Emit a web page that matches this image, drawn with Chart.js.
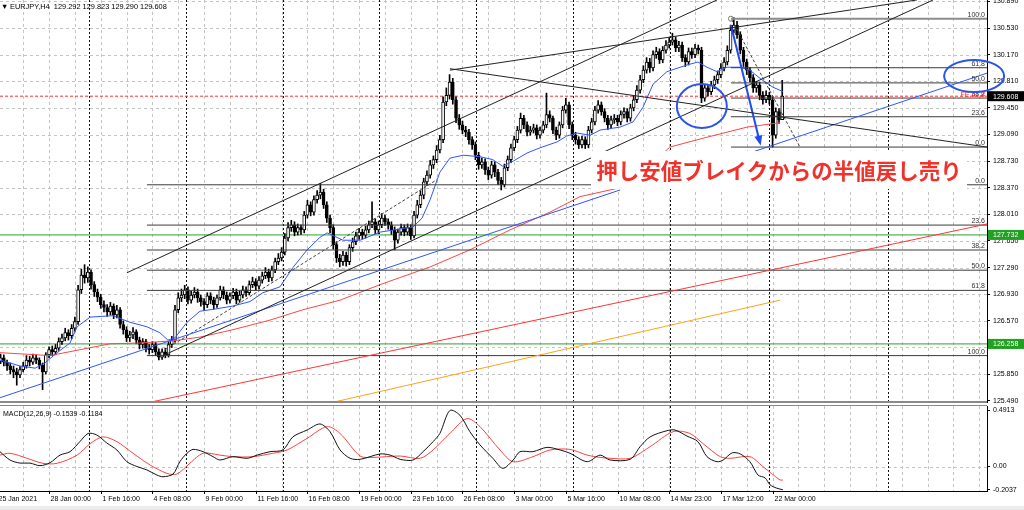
<!DOCTYPE html>
<html>
<head>
<meta charset="utf-8">
<script src="https://cdn.jsdelivr.net/npm/chart.js@4.4.1/dist/chart.umd.min.js"></script>
<style>
  html, body { margin: 0; padding: 0; background: #fff; width: 1024px; height: 510px; overflow: hidden; }
  #main { position: absolute; left: 0; top: 0; }
  #macd { position: absolute; left: 0; top: 405px; }
  #strip { position: absolute; left: 0; top: 506px; width: 1024px; height: 4px; background: #ececec; }
</style>
</head>
<body>
<canvas id="main" width="1024" height="403"></canvas>
<canvas id="macd" width="1024" height="100"></canvas>
<div id="strip"></div>
<script>
// ---- EURJPY H4 candles, bar index 3 .. 245 (index 0 = 25 Jan 00:00) ----
const firstBar = 3;
const firstOpen = 126.02;
const closes = [
  126.07,126.01,125.96,125.91,125.88,125.84,125.91,125.96,126.04,126.01,
  126.07,126.04,125.97,125.88,126.11,126.18,126.15,126.20,126.29,126.34,
  126.41,126.37,126.47,126.56,126.99,127.19,127.15,127.23,127.06,126.96,
  126.89,126.79,126.75,126.69,126.77,126.65,126.72,126.52,126.45,126.34,
  126.38,126.42,126.31,126.25,126.29,126.20,126.18,126.25,126.15,126.08,
  126.15,126.11,126.25,126.31,126.72,126.88,126.92,126.99,126.85,126.92,
  126.96,126.88,126.83,126.79,126.91,126.85,126.79,126.88,126.99,126.92,
  126.85,126.91,126.96,126.85,126.92,126.99,126.95,127.06,127.10,127.04,
  127.12,127.18,127.23,127.15,127.26,127.37,127.42,127.50,127.69,127.83,
  127.87,127.77,127.83,127.80,128.00,128.14,128.04,128.21,128.27,128.31,
  128.14,127.96,127.83,127.60,127.42,127.37,127.46,127.37,127.56,127.64,
  127.72,127.77,127.73,127.80,127.87,127.91,127.80,127.87,127.96,127.91,
  127.87,127.80,127.66,127.77,127.83,127.77,127.83,127.72,128.00,128.14,
  128.27,128.45,128.54,128.68,128.75,128.88,129.02,129.53,129.62,129.80,
  129.56,129.31,129.22,129.15,129.12,129.02,128.95,128.81,128.68,128.72,
  128.61,128.54,128.68,128.58,128.47,128.41,128.64,128.75,128.91,129.02,
  129.15,129.31,129.22,129.12,129.15,129.18,129.08,129.15,129.22,129.36,
  129.31,129.15,129.08,129.22,129.42,129.49,129.22,129.08,129.02,128.95,
  129.02,128.95,129.15,129.26,129.42,129.49,129.40,129.31,129.22,129.29,
  129.31,129.26,129.36,129.40,129.31,129.45,129.56,129.69,129.83,129.96,
  130.07,129.99,130.17,130.21,130.10,130.23,130.30,130.34,130.37,130.26,
  130.30,130.13,130.07,130.21,130.17,130.26,130.23,129.58,129.72,129.67,
  129.76,129.83,129.90,129.99,130.07,130.23,130.50,130.57,130.44,130.23,
  130.07,129.96,129.86,129.72,129.76,129.62,129.56,129.62,129.56,129.08,
  129.40,129.292,129.608
];
const highs = [
  126.12,126.11,126.04,126.00,125.96,125.93,125.95,126.01,126.10,126.09,
  126.12,126.11,126.07,126.00,126.14,126.22,126.23,126.25,126.34,126.39,
  126.47,126.45,126.52,126.62,127.05,127.27,127.33,127.30,127.26,127.10,
  127.00,126.93,126.84,126.79,126.82,126.80,126.78,126.75,126.57,126.49,
  126.43,126.48,126.45,126.35,126.33,126.32,126.25,126.29,126.28,126.19,
  126.19,126.20,126.29,126.36,126.78,126.95,127.00,127.05,127.03,126.97,
  127.02,127.00,126.92,126.87,126.95,126.95,126.89,126.92,127.04,127.03,
  126.96,126.95,127.01,127.00,126.97,127.04,127.03,127.11,127.16,127.14,
  127.17,127.23,127.29,127.27,127.31,127.42,127.48,127.56,127.75,127.90,
  127.93,127.91,127.88,127.87,128.05,128.20,128.18,128.26,128.33,128.43,
  128.35,128.18,128.00,127.87,127.64,127.47,127.51,127.50,127.60,127.69,
  127.77,127.82,127.81,127.85,127.92,128.18,127.95,127.92,128.02,128.00,
  127.95,127.91,127.84,127.81,127.88,127.87,127.88,127.87,128.05,128.20,
  128.33,128.50,128.60,128.74,128.80,128.94,129.08,129.60,129.72,129.90,
  129.85,129.60,129.36,129.27,129.20,129.16,129.06,128.99,128.85,128.77,
  128.76,128.65,128.73,128.72,128.62,128.51,128.69,128.80,128.96,129.07,
  129.20,129.38,129.35,129.26,129.20,129.23,129.22,129.19,129.27,129.65,
  129.41,129.34,129.19,129.26,129.47,129.58,129.53,129.26,129.12,129.06,
  129.07,129.06,129.20,129.31,129.47,129.55,129.53,129.44,129.35,129.34,
  129.36,129.35,129.41,129.45,129.44,129.50,129.61,129.75,129.89,130.02,
  130.13,130.12,130.22,130.27,130.25,130.28,130.36,130.40,130.46,130.41,
  130.35,130.34,130.17,130.26,130.26,130.31,130.30,130.27,129.77,129.76,
  129.81,129.88,129.95,130.05,130.13,130.29,130.57,130.67,130.62,130.48,
  130.27,130.11,130.00,129.90,129.81,129.80,129.67,129.68,129.66,129.60,
  129.45,129.44,129.823
];
const lows = [
  125.99,125.96,125.90,125.85,125.80,125.70,125.80,125.88,125.93,125.96,
  125.98,125.99,125.92,125.64,125.85,126.07,126.10,126.11,126.17,126.25,
  126.30,126.31,126.33,126.43,126.52,126.94,127.08,127.09,127.00,126.90,
  126.83,126.74,126.69,126.63,126.65,126.60,126.61,126.47,126.39,126.29,
  126.29,126.33,126.26,126.19,126.20,126.15,126.12,126.14,126.10,126.04,
  126.05,126.07,126.08,126.21,126.28,126.68,126.83,126.87,126.80,126.81,
  126.88,126.82,126.77,126.71,126.75,126.80,126.73,126.75,126.85,126.87,
  126.80,126.81,126.87,126.80,126.82,126.88,126.90,126.92,127.02,126.99,
  127.00,127.08,127.14,127.10,127.11,127.22,127.33,127.38,127.46,127.65,
  127.78,127.72,127.73,127.74,127.76,127.96,127.99,128.00,128.16,128.22,
  128.09,127.90,127.76,127.54,127.36,127.30,127.32,127.31,127.33,127.51,
  127.60,127.67,127.68,127.69,127.76,127.83,127.75,127.75,127.83,127.86,
  127.81,127.74,127.53,127.62,127.73,127.72,127.73,127.67,127.69,127.96,
  128.10,128.22,128.40,128.50,128.63,128.71,128.84,128.98,129.48,129.57,
  129.50,129.25,129.16,129.10,129.06,128.96,128.89,128.75,128.62,128.63,
  128.55,128.48,128.50,128.52,128.41,128.34,128.38,128.60,128.71,128.87,
  128.98,129.11,129.17,129.07,129.08,129.11,129.03,129.04,129.11,129.18,
  129.26,129.10,129.02,129.04,129.18,129.38,129.17,129.02,128.96,128.90,
  128.91,128.90,128.91,129.11,129.22,129.38,129.35,129.26,129.16,129.18,
  129.24,129.21,129.22,129.31,129.26,129.27,129.41,129.52,129.65,129.79,
  129.92,129.93,129.95,130.12,130.05,130.06,130.19,130.26,130.30,130.21,
  130.21,130.08,130.01,130.03,130.12,130.13,130.18,129.52,129.54,129.61,
  129.63,129.71,129.78,129.86,129.95,130.03,130.19,130.46,130.39,130.18,
  130.01,129.90,129.80,129.66,129.66,129.56,129.50,129.52,129.50,128.92,
  129.04,129.24,129.290
];

// moving averages: [bar, price]
const blueMa = [[2.8,126.04],[9.0,125.96],[13.7,125.93],[16.7,126.00],[20.5,126.14],[24.5,126.27],[26.7,126.49],[30.7,126.62],[37.8,126.64],[43.1,126.55],[48.3,126.49],[52.3,126.41],[54.8,126.31],[57.0,126.34],[60.7,126.55],[64.7,126.70],[69.4,126.73],[74.9,126.77],[80.2,126.83],[84.2,126.95],[89.5,127.03],[93.5,127.29],[97.9,127.53],[101.9,127.70],[104.1,127.76],[109.0,127.66],[114.3,127.66],[120.5,127.77],[130.7,127.84],[133.5,127.96],[136.0,128.21],[139.0,128.58],[142.1,128.77],[146.2,128.81],[151.4,128.79],[155.4,128.75],[158.5,128.66],[161.7,128.73],[166.0,128.84],[170.0,128.91],[175.3,128.99],[178.3,129.07],[181.5,129.11],[185.5,129.08],[188.6,129.15],[194.8,129.19],[198.8,129.26],[201.9,129.46],[205.0,129.77],[209.3,129.94],[215.5,130.03],[218.9,130.07],[221.7,130.00],[224.8,129.94],[227.9,130.00],[231.9,130.00],[235.0,129.96],[238.1,129.85],[242.1,129.73],[245.2,129.67]];
const redMa = [[2.8,126.14],[18.3,126.10],[27.6,126.18],[36.9,126.26],[46.2,126.27],[56.4,126.30],[64.7,126.35],[74.9,126.45],[86.4,126.58],[96.6,126.72],[108.1,126.85],[120.5,127.06],[136.0,127.30],[148.3,127.53],[160.7,127.80],[173.1,128.04],[182.4,128.25],[194.8,128.37],[202.5,128.61],[210.2,128.92],[220.5,129.04],[234.1,129.19],[244.3,129.25]];

// MACD(12,26,9): [bar, value]
const macdMain = [[2.8,0.13],[5.9,0.057],[9.0,0.03],[12.1,0.03],[15.2,0.007],[18.3,0.033],[21.4,0.10],[24.5,0.13],[27.6,0.22],[30.1,0.29],[32.8,0.276],[35.9,0.206],[39.0,0.145],[42.1,0.042],[45.2,0.0],[48.3,-0.03],[51.4,-0.075],[53.3,-0.09],[56.4,-0.066],[58.5,0.042],[60.7,0.116],[62.6,0.15],[65.7,0.13],[68.8,0.086],[70.9,0.057],[74.9,0.086],[79.3,0.072],[82.4,0.10],[86.4,0.13],[90.4,0.145],[93.5,0.26],[97.9,0.32],[101.9,0.373],[105.0,0.305],[108.1,0.145],[111.2,0.072],[114.3,0.063],[120.5,0.11],[123.6,0.10],[126.7,0.063],[130.7,0.057],[133.8,0.13],[136.9,0.218],[139.0,0.29],[142.1,0.4913],[145.2,0.45],[148.3,0.305],[151.4,0.19],[155.4,0.072],[158.5,-0.016],[161.7,0.057],[163.8,0.13],[167.8,0.13],[172.2,0.168],[176.2,0.145],[179.3,0.116],[184.6,0.042],[188.6,0.10],[191.7,0.057],[197.9,0.063],[201.0,0.174],[204.1,0.26],[209.3,0.314],[211.8,0.32],[215.5,0.267],[218.9,0.218],[221.7,0.086],[224.8,0.042],[226.7,0.057],[229.5,0.12],[232.0,0.11],[235.0,0.042],[237.5,-0.075],[239.7,-0.10],[241.2,-0.16],[243.3,-0.19],[245.2,-0.2037]];
const macdSignal = [[2.8,0.10],[5.9,0.116],[11.2,0.072],[16.1,0.028],[20.5,0.028],[26.7,0.10],[30.7,0.2],[34.7,0.26],[39.0,0.218],[44.0,0.116],[49.3,0.013],[54.5,-0.06],[57.6,-0.066],[61.6,0.028],[65.7,0.116],[70.9,0.10],[74.9,0.086],[81.1,0.086],[87.3,0.116],[91.7,0.145],[97.9,0.247],[104.1,0.35],[108.1,0.29],[114.3,0.092],[118.3,0.08],[126.7,0.092],[132.9,0.072],[136.9,0.145],[142.1,0.29],[147.4,0.42],[151.4,0.35],[157.6,0.145],[161.7,0.042],[167.8,0.086],[173.1,0.145],[179.3,0.15],[184.6,0.10],[188.6,0.08],[191.7,0.072],[197.9,0.072],[204.1,0.174],[211.2,0.305],[216.4,0.29],[220.5,0.2],[225.8,0.086],[228.9,0.072],[235.0,0.086],[239.0,0.0],[244.3,-0.118],[245.2,-0.1184]];

// axes
const priceTicks = [125.49,125.85,126.21,126.57,126.93,127.29,127.65,128.01,128.37,128.73,129.09,129.45,129.81,130.17,130.53,130.89];
const macdTicks = [0.4913, 0, -0.2037];
const timeLabelBars = [2,18,34,50,66,82,98,114,130,146,162,178,194,210,226,242];
const timeLabels = ['25 Jan 2021','28 Jan 00:00','1 Feb 16:00','4 Feb 08:00','9 Feb 00:00','11 Feb 16:00','16 Feb 08:00','19 Feb 00:00','23 Feb 16:00','26 Feb 08:00','3 Mar 00:00','5 Mar 16:00','10 Mar 08:00','14 Mar 23:00','17 Mar 12:00','22 Mar 00:00'];
const weekStartBars = [30.4,60.4,90.4,120.3,150.3,180.2,210.1,240.8,277.7];

// drawn objects: [bar, price]
const upperChannel = [[42.1,127.22],[224.8,130.91]];
const lowerChannel = [[53.3,126.10],[291.7,130.91]];
const topLine = [[142.1,129.96],[286.7,130.91]];
const fallLine = [[142.1,129.98],[308.4,128.92]];
const blueTrendLow = [[2.8,125.53],[194.8,128.34]];
const blueTrendHigh = [[228.8,128.75],[308.4,129.92]];
const redTrend = [[48.3,125.46],[308.4,127.88]];
const orangeTrend = [[105,125.46],[244.3,126.85]];
const dashedRise = [[53.9,126.18],[138.1,128.48]];
const dashedDrop = [[229.4,130.64],[250.5,128.92]];
const arrowMove = [[229.1,130.57],[238.1,128.98]];
const fibLevels = ['100.0','61.8','50.0','38.2','23.6','0.0'];
const fibHighStart = 229.1;
const fibHighPrices = [130.656,129.993,129.788,129.583,129.33,128.92];
const fibLowStart = 48.3;
const fibLowPrices = [126.10,126.982,127.255,127.528,127.865,128.41];
const greenLevels = [127.732, 126.258];
const bidPrice = 129.608;
const note = '押し安値ブレイクからの半値戻し売り';

const xMin = 2.817, xMax = 308.39;
const yMin = 125.459, yMax = 130.909;

Chart.defaults.font.family = '"Liberation Sans", Arial, sans-serif';
Chart.defaults.font.size = 7;
Chart.defaults.color = '#000';

const candleIdx = closes.map((c, k) => firstBar + k);
// H4 FX bars open where the previous one closed
const opens = closes.map((c, k) => k === 0 ? firstOpen : closes[k - 1]);

function seg(points, color, width, dash, order) {
  return {
    type: 'line',
    data: points.map(p => ({ x: p[0], y: p[1] })),
    borderColor: color, borderWidth: width, borderDash: dash || [],
    pointRadius: 0, tension: 0, fill: false, order: order || 1
  };
}

function gridAndSeparators(chart, hValues) {
  const { ctx, chartArea: a, scales: { x, y } } = chart;
  ctx.save();
  ctx.lineWidth = 1;
  ctx.strokeStyle = '#c4c4c4';
  ctx.setLineDash([3, 3]);
  for (let b = 2; b <= xMax; b += 8) {
    const px = Math.round(x.getPixelForValue(b)) + 0.5;
    ctx.beginPath(); ctx.moveTo(px, a.top); ctx.lineTo(px, a.bottom); ctx.stroke();
  }
  for (const v of hValues) {
    const py = Math.round(y.getPixelForValue(v)) + 0.5;
    ctx.beginPath(); ctx.moveTo(a.left, py); ctx.lineTo(a.right, py); ctx.stroke();
  }
  ctx.strokeStyle = '#111';
  ctx.setLineDash([2, 2]);
  for (const b of weekStartBars) {
    const px = Math.round(x.getPixelForValue(b)) + 0.5;
    ctx.beginPath(); ctx.moveTo(px, a.top); ctx.lineTo(px, a.bottom); ctx.stroke();
  }
  ctx.restore();
}

const mainDecor = {
  id: 'mainDecor',
  beforeDatasetsDraw(chart) {
    gridAndSeparators(chart, priceTicks);
  },
  afterDatasetsDraw(chart) {
    const { ctx, chartArea: a, scales: { x, y } } = chart;
    ctx.save();
    ctx.beginPath(); ctx.rect(a.left, a.top, a.right - a.left, a.bottom - a.top); ctx.clip();

    // fibonacci labels
    ctx.font = '7px "Liberation Sans", Arial, sans-serif';
    ctx.fillStyle = '#333';
    ctx.textAlign = 'right';
    ctx.textBaseline = 'alphabetic';
    fibHighPrices.forEach((p, k) => ctx.fillText(fibLevels[k], a.right - 2, y.getPixelForValue(p) - 2));
    const lowLabels = ['100.0','61.8','50.0','38.2','23.6','0.0'];
    fibLowPrices.forEach((p, k) => ctx.fillText(lowLabels[k], a.right - 2, y.getPixelForValue(p) - 2));
    ctx.fillStyle = '#ff2a2a';
    ctx.fillText('FE 61.8', a.right - 2, y.getPixelForValue(bidPrice) + 1);

    // anchor marker at the swing high
    ctx.strokeStyle = '#777';
    ctx.lineWidth = 1;
    ctx.beginPath();
    ctx.arc(x.getPixelForValue(fibHighStart), y.getPixelForValue(fibHighPrices[0]), 2.5, 0, Math.PI * 2);
    ctx.stroke();

    // arrow head
    const [p0, p1] = arrowMove;
    const ax0 = x.getPixelForValue(p0[0]), ay0 = y.getPixelForValue(p0[1]);
    const ax1 = x.getPixelForValue(p1[0]), ay1 = y.getPixelForValue(p1[1]);
    const ang = Math.atan2(ay1 - ay0, ax1 - ax0);
    ctx.fillStyle = '#1f4bf0';
    ctx.beginPath();
    ctx.moveTo(ax1 + 3 * Math.cos(ang), ay1 + 3 * Math.sin(ang));
    ctx.lineTo(ax1 - 7 * Math.cos(ang) + 4 * Math.sin(ang), ay1 - 7 * Math.sin(ang) - 4 * Math.cos(ang));
    ctx.lineTo(ax1 - 7 * Math.cos(ang) - 4 * Math.sin(ang), ay1 - 7 * Math.sin(ang) + 4 * Math.cos(ang));
    ctx.closePath();
    ctx.fill();

    // circle around the broken support
    ctx.strokeStyle = '#2a55e8';
    ctx.lineWidth = 2;
    ctx.beginPath();
    ctx.ellipse(x.getPixelForValue(220.1), y.getPixelForValue(129.476), 25, 22, 0, 0, Math.PI * 2);
    ctx.stroke();

    // annotation text on a white plate
    const cx = x.getPixelForValue(244), cy = y.getPixelForValue(128.61);
    ctx.fillStyle = '#fff';
    ctx.fillRect(cx - 188, cy - 19, 376, 38);
    ctx.fillStyle = '#f0322a';
    ctx.font = 'bold 21.5px "Noto Sans CJK JP", sans-serif';
    ctx.textAlign = 'center';
    ctx.textBaseline = 'middle';
    ctx.fillText(note, cx, cy + 1);
    ctx.restore();
  },
  afterDraw(chart) {
    const { ctx, chartArea: a, scales: { x, y } } = chart;
    ctx.save();
    // panel bottom separator
    ctx.strokeStyle = '#8a8a8a';
    ctx.lineWidth = 2;
    ctx.beginPath(); ctx.moveTo(0, a.bottom - 1); ctx.lineTo(a.right, a.bottom - 1); ctx.stroke();

    // header
    ctx.font = '7.4px "Liberation Sans", Arial, sans-serif';
    ctx.fillStyle = '#000';
    ctx.textAlign = 'left';
    ctx.textBaseline = 'middle';
    ctx.fillText('\u25BC', 1, 7);
    ctx.fillText('EURJPY,H4  129.292 129.823 129.290 129.608', 10, 7);

    // price tags on the axis
    ctx.font = '7px "Liberation Sans", Arial, sans-serif';
    const tag = (p, bg) => {
      const py = y.getPixelForValue(p);
      ctx.fillStyle = bg;
      ctx.fillRect(a.right + 1, py - 5, 36, 10);
      ctx.fillStyle = '#fff';
      ctx.fillText(p.toFixed(3), a.right + 6, py + 0.5);
    };
    tag(bidPrice, '#000');
    greenLevels.forEach(p => tag(p, '#22a022'));

    // circle on the right edge
    ctx.strokeStyle = '#2a55e8';
    ctx.lineWidth = 2;
    ctx.beginPath();
    ctx.ellipse(x.getPixelForValue(304.4), y.getPixelForValue(129.881), 30, 16, 0, 0, Math.PI * 2);
    ctx.stroke();
    ctx.restore();
  }
};

const candleColors = closes.map((c, k) => c >= opens[k] ? '#ffffff' : '#000000');

const fullWidth = p => [[xMin, p], [xMax, p]];
const mainDatasets = [
  {
    type: 'bar', label: 'wick',
    data: candleIdx.map((b, k) => ({ x: b, y: [lows[k], highs[k]] })),
    backgroundColor: '#000', borderWidth: 0, barThickness: 1, grouped: false, order: 6
  },
  {
    type: 'bar', label: 'body',
    data: candleIdx.map((b, k) => ({ x: b, y: [opens[k], closes[k]] })),
    backgroundColor: candleColors, borderColor: '#000', borderWidth: 1, borderSkipped: false,
    barThickness: 3, minBarLength: 1, grouped: false, order: 5
  },
  seg(blueMa, '#2d56ff', 1, null, 3),
  seg(redMa, '#ff4545', 1, null, 3),
  seg(fullWidth(greenLevels[0]), '#2e9e2e', 1, null, 7),
  seg(fullWidth(greenLevels[1]), '#2e9e2e', 1, null, 7),
  seg(fullWidth(bidPrice), '#ff3030', 1, [3, 2], 7),
  seg(upperChannel, '#222', 1),
  seg(lowerChannel, '#222', 1),
  seg(topLine, '#222', 1),
  seg(fallLine, '#222', 1),
  seg(blueTrendLow, '#2d56ff', 1),
  seg(blueTrendHigh, '#2d56ff', 1),
  seg(redTrend, '#ff3535', 1),
  seg(orangeTrend, '#ffa31a', 1),
  seg(dashedRise, '#444', 1, [3, 2]),
  seg(dashedDrop, '#444', 1, [3, 2]),
  seg(arrowMove, '#1f4bf0', 2),
  ...fibHighPrices.map((p, k) => seg([[fibHighStart, p], [xMax, p]], k === 0 ? '#8c8c8c' : '#3c3c3c', k === 0 ? 2 : 1, null, 2)),
  ...fibLowPrices.map(p => seg([[fibLowStart, p], [xMax, p]], '#3c3c3c', 1, null, 2))
];

new Chart(document.getElementById('main'), {
  type: 'bar',
  data: { datasets: mainDatasets },
  options: {
    responsive: false,
    animation: false,
    layout: { padding: 0 },
    plugins: { legend: { display: false }, tooltip: { enabled: false } },
    scales: {
      x: { type: 'linear', min: xMin, max: xMax, offset: false, display: false },
      y: {
        position: 'right', min: yMin, max: yMax,
        afterBuildTicks: s => { s.ticks = priceTicks.map(v => ({ value: v })); },
        afterFit: s => { s.width = 37; s.paddingTop = 0; s.paddingBottom = 0; },
        ticks: { callback: v => v.toFixed(3), padding: 3, autoSkip: false, color: '#000' },
        grid: { drawOnChartArea: false, drawTicks: true, tickLength: 3, color: '#000' },
        border: { color: '#000' }
      }
    }
  },
  plugins: [mainDecor]
});

const macdDecor = {
  id: 'macdDecor',
  beforeDatasetsDraw(chart) {
    gridAndSeparators(chart, [0]);
  },
  afterDraw(chart) {
    const { ctx, chartArea: a, scales: { x } } = chart;
    ctx.save();
    ctx.strokeStyle = '#8a8a8a';
    ctx.lineWidth = 1;
    ctx.beginPath(); ctx.moveTo(0, 0.5); ctx.lineTo(a.right, 0.5); ctx.stroke();
    ctx.strokeStyle = '#000';
    ctx.beginPath(); ctx.moveTo(0, a.bottom + 0.5); ctx.lineTo(a.right, a.bottom + 0.5); ctx.stroke();

    ctx.font = '7px "Liberation Sans", Arial, sans-serif';
    ctx.fillStyle = '#000';
    ctx.textBaseline = 'middle';
    ctx.textAlign = 'left';
    ctx.fillText('MACD(12,26,9) -0.1539 -0.1184', 3, a.top + 8);
    timeLabelBars.forEach((b, k) => {
      const px = Math.round(x.getPixelForValue(b)) + 0.5;
      ctx.beginPath(); ctx.moveTo(px, a.bottom); ctx.lineTo(px, a.bottom + 3); ctx.stroke();
      ctx.fillText(timeLabels[k], px + 1, a.bottom + 8.5);
    });
    ctx.restore();
  }
};

new Chart(document.getElementById('macd'), {
  type: 'line',
  data: {
    datasets: [
      { data: macdMain.map(p => ({ x: p[0], y: p[1] })), borderColor: '#111', borderWidth: 1, pointRadius: 0, tension: 0.3 },
      { data: macdSignal.map(p => ({ x: p[0], y: p[1] })), borderColor: '#ff4040', borderWidth: 1, pointRadius: 0, tension: 0.3 }
    ]
  },
  options: {
    responsive: false,
    animation: false,
    layout: { padding: { top: 1, bottom: 14, left: 0, right: 0 } },
    plugins: { legend: { display: false }, tooltip: { enabled: false } },
    scales: {
      x: { type: 'linear', min: xMin, max: xMax, display: false },
      y: {
        position: 'right', min: -0.2149, max: 0.5307,
        afterBuildTicks: s => { s.ticks = macdTicks.map(v => ({ value: v })); },
        afterFit: s => { s.width = 37; s.paddingTop = 0; s.paddingBottom = 0; },
        ticks: { callback: v => v === 0 ? '0.00' : v.toFixed(4), padding: 3, autoSkip: false, color: '#000' },
        grid: { drawOnChartArea: false, drawTicks: true, tickLength: 3, color: '#000' },
        border: { color: '#000' }
      }
    }
  },
  plugins: [macdDecor]
});
</script>
</body>
</html>
